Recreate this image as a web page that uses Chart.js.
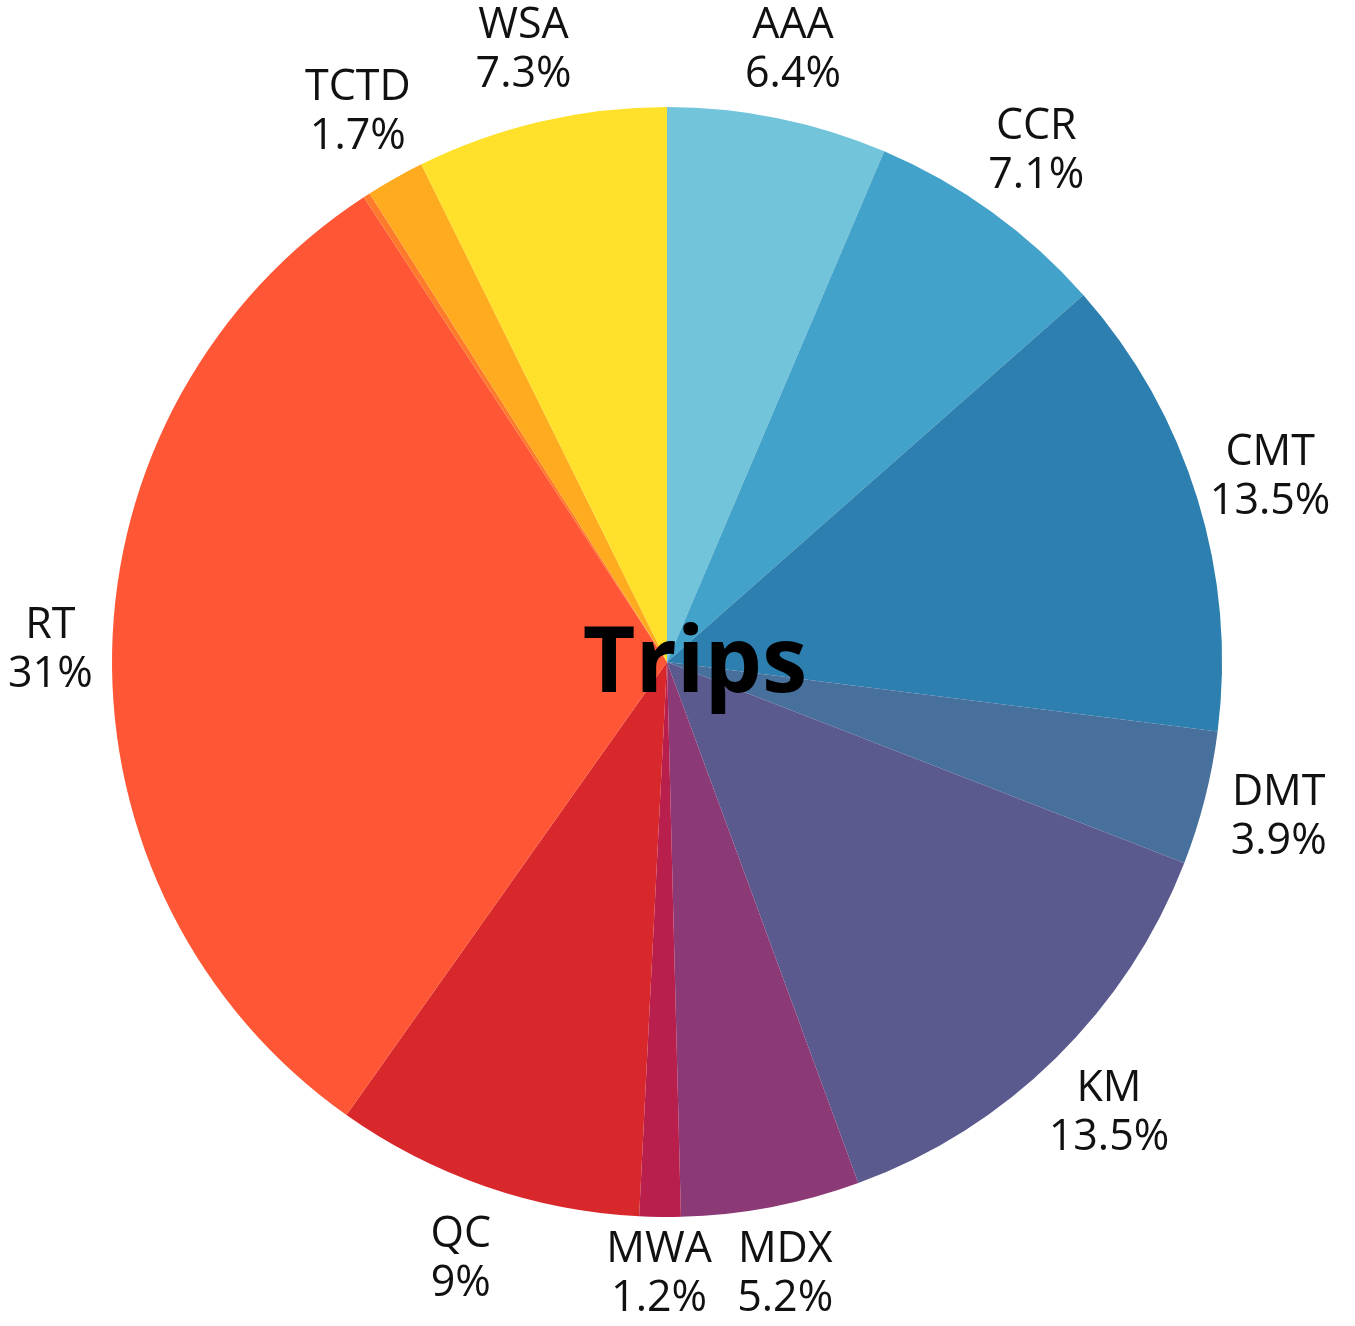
<!DOCTYPE html>
<html>
<head>
<meta charset="utf-8">
<script src="https://cdn.jsdelivr.net/npm/chart.js@4.4.0/dist/chart.umd.min.js"></script>
<style>
  html, body { margin: 0; padding: 0; background: #fff; }
  #wrap { width: 1355px; height: 1326px; }
</style>
</head>
<body>
<div id="wrap"><canvas id="tripsChart"></canvas></div>
<script>
// slices go clockwise from 12 o'clock
const labels = ['AAA', 'CCR', 'CMT', 'DMT', 'KM', 'MDX', 'MWA', 'QC', 'RT', '', 'TCTD', 'WSA'];
const values = [6.4, 7.1, 13.5, 3.9, 13.5, 5.2, 1.2, 9, 31, 0.2, 1.7, 7.3];
const pctText = ['6.4%', '7.1%', '13.5%', '3.9%', '13.5%', '5.2%', '1.2%', '9%', '31%', '', '1.7%', '7.3%'];
const colors = ['#72c4da', '#42a2c9', '#2c7fae', '#48709c', '#5b5a8e', '#8c3a76', '#b81f4c', '#d9282c', '#ff5635', '#ff7b2c', '#ffab1f', '#ffe12b'];

const outsideLabels = {
  id: 'outsideLabels',
  afterDraw(chart) {
    const ctx = chart.ctx;
    const arcs = chart.getDatasetMeta(0).data;
    ctx.save();
    ctx.fillStyle = '#111';
    ctx.textAlign = 'center';
    ctx.textBaseline = 'middle';
    ctx.font = '43px "Open Sans", "Noto Sans", sans-serif';
    arcs.forEach((arc, i) => {
      if (!labels[i]) return;
      const p = arc.getProps(['x', 'y', 'startAngle', 'endAngle', 'outerRadius'], true);
      const mid = (p.startAngle + p.endAngle) / 2;
      const r = p.outerRadius + 76;
      let x = p.x + Math.cos(mid) * r;
      let y = p.y + Math.sin(mid) * r;
      // keep the two-line block inside the canvas
      const half = Math.max(ctx.measureText(labels[i]).width, ctx.measureText(pctText[i]).width) / 2;
      x = Math.min(Math.max(x, half + 8), chart.width - half - 8);
      y = Math.min(Math.max(y, 50), chart.height - 52);
      ctx.fillText(labels[i], x, y - 24);
      ctx.fillText(pctText[i], x, y + 25);
    });
    // centre title
    const a = arcs[0];
    ctx.font = 'bold 91px "Open Sans", "Noto Sans", sans-serif';
    ctx.fillStyle = '#000';
    ctx.fillText('Trips', a.x + 28, a.y + 4);
    ctx.restore();
  }
};

const ctx = document.getElementById('tripsChart').getContext('2d');
const pieChart = new Chart(ctx, {
  type: 'pie',
  data: {
    labels: labels,
    datasets: [{
      data: values,
      backgroundColor: colors,
      borderWidth: 0
    }]
  },
  options: {
    responsive: true,
    maintainAspectRatio: false,
    animation: false,
    layout: { padding: { left: 112, right: 133, top: 107, bottom: 109 } },
    plugins: {
      legend: { display: false },
      tooltip: { enabled: false }
    }
  },
  plugins: [outsideLabels]
});
</script>
</body>
</html>
